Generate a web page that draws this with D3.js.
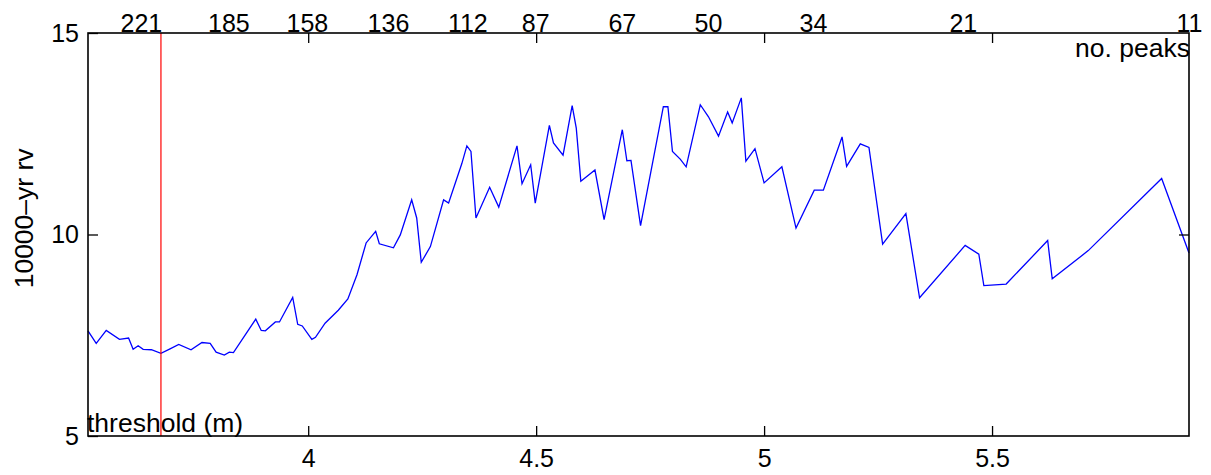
<!DOCTYPE html>
<meta charset="utf-8">
<head>
	<title>10000-yr rv vs threshold</title>
	<script src="https://cdn.jsdelivr.net/npm/d3@7"></script>
</head>

<style type="text/css">
	body {
		margin: 0;
		background: #fff;
	}
	svg {
		display: block;
		font-family: "Liberation Sans", Arial, Helvetica, sans-serif;
	}
	.axis text {
		font-size: 25px;
		fill: #000;
	}
	.axis line {
		stroke: #000;
		stroke-width: 1.3px;
	}
	.axis path.domain {
		display: none;
	}
	.frame {
		fill: none;
		stroke: #000;
		stroke-width: 1.6px;
	}
	.label {
		font-size: 26.5px;
		fill: #000;
	}
</style>

<body>
<script>
	// threshold (m) and the 10000-yr return value
	var threshold = [
		3.517, 3.535, 3.557, 3.586, 3.606, 3.616, 3.627, 3.638, 3.656, 3.677,
		3.697, 3.716, 3.743, 3.767, 3.785, 3.798, 3.816, 3.827, 3.836, 3.885,
		3.897, 3.906, 3.928, 3.937, 3.966, 3.977, 3.987, 4.008, 4.016, 4.037,
		4.066, 4.087, 4.107, 4.127, 4.148, 4.156, 4.187, 4.202, 4.227, 4.238,
		4.248, 4.268, 4.297, 4.308, 4.337, 4.348, 4.357, 4.368, 4.398, 4.418,
		4.458, 4.469, 4.488, 4.498, 4.529, 4.538, 4.559, 4.579, 4.588, 4.598,
		4.629, 4.649, 4.689, 4.699, 4.708, 4.729, 4.779, 4.789, 4.799, 4.816,
		4.829, 4.860, 4.878, 4.900, 4.920, 4.930, 4.950, 4.960, 4.980, 5.000,
		5.039, 5.070, 5.110, 5.130, 5.171, 5.181, 5.211, 5.230, 5.260, 5.311,
		5.341, 5.441, 5.471, 5.482, 5.531, 5.622, 5.632, 5.711, 5.872, 5.932
	];
	var rv = [
		7.61, 7.30, 7.62, 7.40, 7.43, 7.15, 7.24, 7.15, 7.14, 7.05,
		7.16, 7.27, 7.14, 7.32, 7.30, 7.08, 7.01, 7.08, 7.07, 7.90,
		7.62, 7.61, 7.83, 7.83, 8.44, 7.77, 7.73, 7.40, 7.45, 7.80,
		8.12, 8.40, 9.00, 9.79, 10.08, 9.77, 9.67, 9.99, 10.86, 10.41,
		9.31, 9.70, 10.86, 10.78, 11.76, 12.20, 12.06, 10.41, 11.17, 10.68,
		12.20, 11.26, 11.73, 10.78, 12.71, 12.27, 11.97, 13.20, 12.64, 11.32,
		11.60, 10.37, 12.60, 11.83, 11.84, 10.22, 13.17, 13.17, 12.06, 11.87,
		11.68, 13.22, 12.92, 12.44, 13.04, 12.77, 13.39, 11.82, 12.13, 11.28,
		11.68, 10.16, 11.10, 11.10, 12.42, 11.69, 12.25, 12.16, 9.76, 10.52,
		8.43, 9.73, 9.51, 8.73, 8.77, 9.85, 8.90, 9.60, 11.39, 9.54
	];

	var xTicks = [4, 4.5, 5, 5.5];
	var yTicks = [5, 10, 15];
	var rightTicks = [10];

	// number of peaks above threshold, labelled along the top
	var peakAt = [3.633, 3.825, 3.997, 4.175, 4.349, 4.498, 4.688, 4.877, 5.107, 5.436, 5.932];
	var peakLabels = ["221", "185", "158", "136", "112", "87", "67", "50", "34", "21", "11"];

	var chosenThreshold = 3.677;

	var margin = {top: 33, right: 22, bottom: 39, left: 88},
		width = 1211 - margin.left - margin.right,
		height = 475 - margin.top - margin.bottom;

	var svg = d3.select("body").append("svg")
		.attr("width", width + margin.left + margin.right)
		.attr("height", height + margin.top + margin.bottom);

	var g = svg.append("g")
		.attr("transform", "translate(" + margin.left + "," + margin.top + ")");

	var x = d3.scaleLinear()
		.domain([threshold[0], threshold[threshold.length - 1]])
		.range([0, width]);

	var y = d3.scaleLinear()
		.domain([5, 15])
		.range([height, 0]);

	var data = threshold.map(function(t, i) { return {t: t, v: rv[i]}; });

	var line = d3.line()
		.x(function(d) { return x(d.t); })
		.y(function(d) { return y(d.v); });

	g.append("path")
		.datum(data)
		.attr("fill", "none")
		.attr("stroke", "#0000ff")
		.attr("stroke-width", 1.3)
		.attr("d", line);

	g.append("line")
		.attr("x1", x(chosenThreshold))
		.attr("x2", x(chosenThreshold))
		.attr("y1", 0)
		.attr("y2", height)
		.attr("stroke", "#ff0000")
		.attr("stroke-width", 1.2);

	// axes, ticks pointing inward
	g.append("g")
		.attr("class", "axis")
		.attr("transform", "translate(0," + height + ")")
		.call(d3.axisBottom(x).tickValues(xTicks).tickSizeInner(-10).tickSizeOuter(0).tickPadding(13)
			.tickFormat(d3.format("")));

	g.append("g")
		.attr("class", "axis")
		.call(d3.axisTop(x).tickValues(xTicks).tickSizeInner(-10).tickSizeOuter(0).tickFormat(""));

	g.append("g")
		.attr("class", "axis")
		.call(d3.axisLeft(y).tickValues(yTicks).tickSizeInner(-10).tickSizeOuter(0).tickPadding(9));

	g.append("g")
		.attr("class", "axis")
		.attr("transform", "translate(" + width + ",0)")
		.call(d3.axisRight(y).tickValues(rightTicks).tickSizeInner(-10).tickSizeOuter(0).tickFormat(""));

	var peakAxis = g.append("g")
		.attr("class", "axis")
		.call(d3.axisTop(x).tickValues(peakAt).tickSize(0).tickPadding(2)
			.tickFormat(function(d, i) { return peakLabels[i]; }));
	peakAxis.selectAll("text").attr("dy", "0em").attr("y", -1);

	g.append("rect")
		.attr("class", "frame")
		.attr("width", width)
		.attr("height", height);

	g.append("text")
		.attr("class", "label")
		.attr("x", -1)
		.attr("y", height - 4)
		.text("threshold (m)");

	g.append("text")
		.attr("class", "label")
		.attr("x", width + 1)
		.attr("y", 24)
		.attr("text-anchor", "end")
		.text("no. peaks");

	svg.append("text")
		.attr("class", "label")
		.attr("text-anchor", "middle")
		.attr("transform", "translate(33," + (margin.top + y(10.4)) + ") rotate(-90)")
		.text("10000\u2013yr rv");
</script>
</body>
